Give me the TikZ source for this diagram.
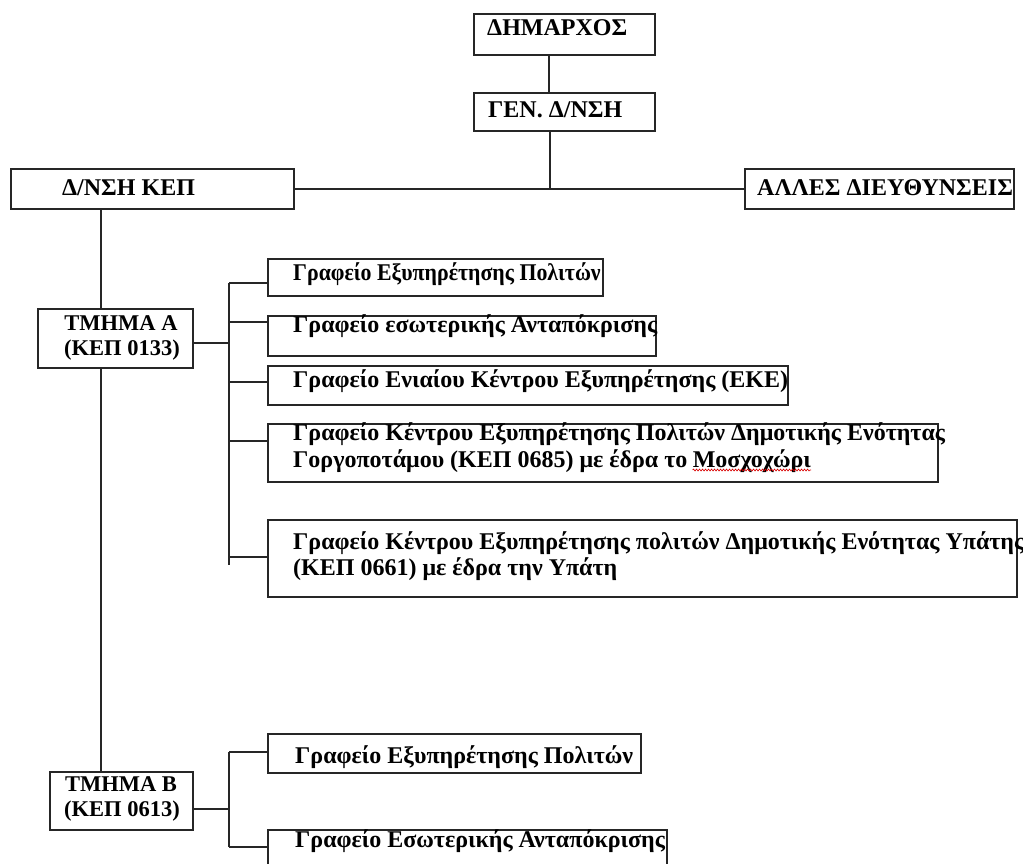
\documentclass[tikz,border=0pt]{standalone}
\usepackage{fontspec}
\setmainfont{Liberation Serif}
\usetikzlibrary{calc,decorations.pathmorphing}

\tikzset{
  x=1pt, y=-1pt,
  frame/.style={draw=black!85, line width=1.8pt, inner sep=0pt, anchor=north west},
  wire/.style={draw=black!85, line width=1.8pt},
  txt/.style={font=\bfseries\fontsize{24}{28}\selectfont, inner sep=0pt, anchor=base west},
  ctxt/.style={font=\bfseries\fontsize{22.5}{26}\selectfont, inner sep=0pt, anchor=base},
  squiggle/.style={draw=red!85!black, line width=0.6pt,
    decorate, decoration={snake, amplitude=1pt, segment length=3pt}},
}

\begin{document}
\begin{tikzpicture}
\clip (0,0) rectangle (1023,863);
\fill[white] (0,0) rectangle (1023,863);

% ---- top levels
\node[frame, minimum width=181pt, minimum height=41pt] (dim)   at (473,13)  {};
\node[frame, minimum width=181pt, minimum height=38pt] (gen)   at (473,92)  {};
\node[frame, minimum width=283pt, minimum height=40pt] (kep)   at (10,168)  {};
\node[frame, minimum width=269pt, minimum height=40pt] (alles) at (744,168) {};

% ---- departments
\node[frame, minimum width=155pt, minimum height=59pt] (tmA) at (37,308) {};
\node[frame, minimum width=143pt, minimum height=58pt] (tmB) at (49,771) {};

% ---- offices of department A
\node[frame, minimum width=335pt, minimum height=37pt] (a1) at (267,258) {};
\node[frame, minimum width=388pt, minimum height=40pt] (a2) at (267,315) {};
\node[frame, minimum width=520pt, minimum height=39pt] (a3) at (267,365) {};
\node[frame, minimum width=670pt, minimum height=58pt] (a4) at (267,423) {};
\node[frame, minimum width=749pt, minimum height=77pt] (a5) at (267,519) {};

% ---- offices of department B
\node[frame, minimum width=373pt, minimum height=39pt] (b1) at (267,733) {};
\node[frame, minimum width=399pt, minimum height=51pt] (b2) at (267,829) {};

% ---- connector anchors
\coordinate (topx)  at (549,0);
\coordinate (hub)   at (550,188);
\coordinate (spine) at (101,0);
\coordinate (busA)  at (229,343);
\coordinate (busB)  at (229,809);
\coordinate (jA1) at (229,283);
\coordinate (jA2) at (229,322);
\coordinate (jA3) at (229,382);
\coordinate (jA4) at (229,441);
\coordinate (jA5) at (229,557);
\coordinate (jAend) at (229,565);
\coordinate (jB1) at (229,752);
\coordinate (jB2) at (229,847);

% ---- connectors
\draw[wire] (topx |- dim.south) -- (topx |- gen.north);
\draw[wire] (hub |- gen.south) -- (hub);
\draw[wire] (kep.east) -- (alles.west);
\draw[wire] (spine |- kep.south) -- (spine |- tmA.north);
\draw[wire] (spine |- tmA.south) -- (spine |- tmB.north);

\draw[wire] (busA -| tmA.east) -- (busA);
\draw[wire] (jA1) -- (jAend);
\draw[wire] (jA1) -- (jA1 -| a1.west);
\draw[wire] (jA2) -- (jA2 -| a2.west);
\draw[wire] (jA3) -- (jA3 -| a3.west);
\draw[wire] (jA4) -- (jA4 -| a4.west);
\draw[wire] (jA5) -- (jA5 -| a5.west);

\draw[wire] (busB -| tmB.east) -- (busB);
\draw[wire] (jB1) -- (jB2);
\draw[wire] (jB1) -- (jB1 -| b1.west);
\draw[wire] (jB2) -- (jB2 -| b2.west);

% ---- labels
\node[txt] (dimT)   at (487,35)  {ΔΗΜΑΡΧΟΣ};
\node[txt] (genT)   at (488,117) {ΓΕΝ. Δ/ΝΣΗ};
\node[txt] (kepT)   at (62,195)  {Δ/ΝΣΗ ΚΕΠ};
\node[txt] (allesT) at (757,195) {ΑΛΛΕΣ ΔΙΕΥΘΥΝΣΕΙΣ};

\node[ctxt] (tmAT1) at (121,330) {ΤΜΗΜΑ Α};
\node[ctxt] (tmAT2) at (122,355) {(ΚΕΠ 0133)};
\node[ctxt] (tmBT1) at (121,791) {ΤΜΗΜΑ Β};
\node[ctxt] (tmBT2) at (122,816) {(ΚΕΠ 0613)};

\node[txt] (a1T)  at (293,280) {\scalebox{0.91}[1]{Γραφείο Εξυπηρέτησης Πολιτών}};
\node[txt] (a2T)  at (293,332) {Γραφείο εσωτερικής Ανταπόκρισης};
\node[txt] (a3T)  at (293,387) {Γραφείο Ενιαίου Κέντρου Εξυπηρέτησης (ΕΚΕ)};
\node[txt] (a4T1) at (293,440) {Γραφείο Κέντρου Εξυπηρέτησης Πολιτών Δημοτικής Ενότητας};
\node[txt] (a4T2) at (293,467) {Γοργοποτάμου (ΚΕΠ 0685) με έδρα το};
\node[txt, xshift=5pt] (a4T3) at (a4T2.base east) {Μοσχοχώρι};
\draw[squiggle] ([yshift=-3pt]a4T3.base west) -- ([yshift=-3pt]a4T3.base east);
\node[txt] (a5T1) at (293,549) {Γραφείο Κέντρου Εξυπηρέτησης πολιτών Δημοτικής Ενότητας Υπάτης};
\node[txt] (a5T2) at (293,575) {(ΚΕΠ 0661) με έδρα την Υπάτη};

\node[txt] (b1T) at (295,763) {Γραφείο Εξυπηρέτησης Πολιτών};
\node[txt] (b2T) at (295,847) {Γραφείο Εσωτερικής Ανταπόκρισης};
\end{tikzpicture}
\end{document}
